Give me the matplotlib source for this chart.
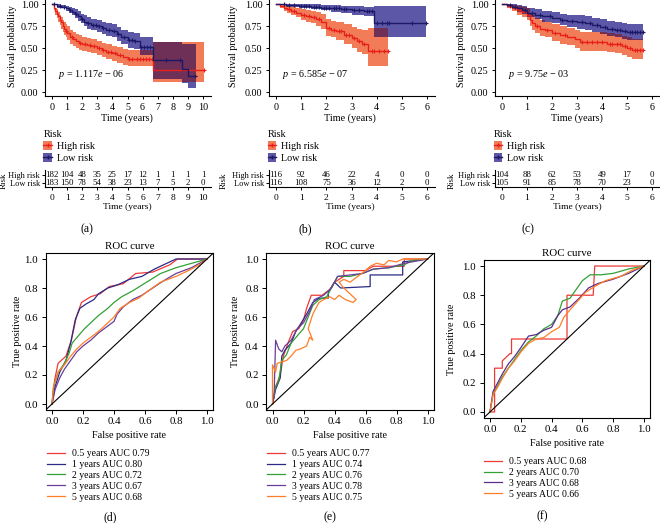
import numpy as np
import matplotlib
matplotlib.use('Agg')
import matplotlib.pyplot as plt
from matplotlib.patches import Patch
from matplotlib.lines import Line2D

plt.rcParams['font.family'] = ['Liberation Serif', 'DejaVu Serif']
plt.rcParams['mathtext.fontset'] = 'custom'
plt.rcParams['mathtext.rm'] = 'Liberation Serif'
plt.rcParams['mathtext.it'] = 'Liberation Serif:italic'
plt.rcParams['axes.linewidth'] = 0.8

# ---------------- Kaplan-Meier data ----------------
# panel (a)
a_high_t = [0, 0.1, 0.2, 0.3, 0.4, 0.5, 0.6, 0.7, 0.8, 0.9, 1.0, 1.2, 1.4, 1.6, 1.8, 2.0, 2.3, 2.6, 3.0, 3.3, 3.6, 4.0, 4.3, 4.7, 5.0, 5.5, 6.7, 10.07]
a_high_s = [1.0, 0.96, 0.92, 0.89, 0.86, 0.82, 0.79, 0.75, 0.72, 0.69, 0.67, 0.63, 0.60, 0.58, 0.56, 0.55, 0.53, 0.52, 0.50, 0.48, 0.46, 0.44, 0.42, 0.40, 0.38, 0.38, 0.25, 0.25]
a_high_lo = [1.0, 0.93, 0.88, 0.84, 0.80, 0.76, 0.72, 0.68, 0.65, 0.62, 0.59, 0.55, 0.52, 0.50, 0.48, 0.47, 0.45, 0.44, 0.42, 0.40, 0.38, 0.35, 0.33, 0.31, 0.29, 0.29, 0.11, 0.11]
a_high_hi = [1.0, 0.99, 0.96, 0.94, 0.91, 0.88, 0.85, 0.82, 0.79, 0.77, 0.75, 0.71, 0.68, 0.66, 0.65, 0.63, 0.61, 0.60, 0.58, 0.56, 0.54, 0.52, 0.51, 0.49, 0.48, 0.48, 0.57, 0.57]
a_high_cens = [0.95, 1.3, 1.85, 2.2, 2.5, 2.8, 3.1, 3.4, 3.7, 3.9, 4.2, 4.5, 5.1, 5.3, 5.6, 5.8, 6.0, 6.2, 6.4, 6.6, 10.05]
a_low_t = [0, 0.3, 0.6, 0.9, 1.1, 1.3, 1.5, 1.7, 1.9, 2.1, 2.3, 2.6, 3.0, 3.3, 3.6, 4.0, 4.3, 4.6, 5.0, 5.4, 5.8, 6.7, 8.6, 9.0, 9.55]
a_low_s = [1.0, 0.98, 0.97, 0.95, 0.93, 0.91, 0.89, 0.86, 0.83, 0.80, 0.78, 0.76, 0.75, 0.73, 0.71, 0.69, 0.66, 0.63, 0.59, 0.58, 0.51, 0.36, 0.26, 0.18, 0.18]
a_low_lo = [1.0, 0.96, 0.95, 0.92, 0.90, 0.87, 0.84, 0.81, 0.78, 0.75, 0.72, 0.70, 0.68, 0.66, 0.64, 0.62, 0.58, 0.55, 0.50, 0.49, 0.42, 0.15, 0.10, 0.05, 0.05]
a_low_hi = [1.0, 1.0, 0.99, 0.98, 0.97, 0.95, 0.94, 0.92, 0.89, 0.87, 0.85, 0.83, 0.82, 0.80, 0.78, 0.77, 0.74, 0.71, 0.68, 0.67, 0.62, 0.57, 0.55, 0.55, 0.55]
a_low_cens = [0.15, 0.5, 0.8, 1.2, 1.6, 2.0, 2.4, 2.7, 2.9, 3.1, 3.4, 3.8, 4.1, 4.4, 4.8, 5.1, 5.3, 5.5, 5.9, 6.1, 6.3, 6.5, 7.55, 8.5, 9.45]
a_times = [0, 1, 2, 3, 4, 5, 6, 7, 8, 9, 10]
a_risk_high = [182, 104, 48, 35, 25, 17, 12, 1, 1, 1, 1]
a_risk_low = [183, 150, 78, 54, 38, 23, 13, 7, 5, 2, 0]

# panel (b)
b_high_t = [0, 0.15, 0.3, 0.45, 0.6, 0.8, 1.0, 1.2, 1.4, 1.6, 1.8, 2.0, 2.2, 2.4, 2.7, 3.0, 3.2, 3.4, 3.65, 4.45]
b_high_s = [1.0, 0.98, 0.96, 0.94, 0.92, 0.90, 0.88, 0.86, 0.85, 0.83, 0.80, 0.73, 0.71, 0.69, 0.65, 0.61, 0.58, 0.55, 0.47, 0.47]
b_high_lo = [1.0, 0.95, 0.92, 0.90, 0.87, 0.85, 0.82, 0.79, 0.78, 0.75, 0.72, 0.64, 0.62, 0.59, 0.55, 0.50, 0.46, 0.43, 0.30, 0.30]
b_high_hi = [1.0, 1.0, 1.0, 0.99, 0.97, 0.96, 0.94, 0.93, 0.92, 0.91, 0.89, 0.83, 0.81, 0.79, 0.77, 0.74, 0.72, 0.70, 0.73, 0.73]
b_high_cens = [0.5, 0.7, 1.1, 1.3, 1.5, 1.7, 2.1, 2.3, 2.5, 2.6, 2.8, 2.9, 3.1, 3.3, 3.5, 3.8, 3.9, 4.1, 4.3, 4.45]
b_low_t = [0, 0.4, 0.9, 1.4, 1.8, 2.2, 2.6, 3.0, 3.5, 3.9, 5.95]
b_low_s = [1.0, 0.99, 0.98, 0.97, 0.96, 0.95, 0.94, 0.93, 0.92, 0.78, 0.78]
b_low_lo = [1.0, 0.97, 0.96, 0.94, 0.93, 0.91, 0.90, 0.88, 0.86, 0.63, 0.63]
b_low_hi = [1.0, 1.0, 1.0, 1.0, 0.99, 0.99, 0.98, 0.98, 0.97, 0.98, 0.98]
b_low_cens = [0.3, 0.5, 0.7, 1.0, 1.1, 1.2, 1.3, 1.5, 1.6, 1.7, 1.9, 2.0, 2.1, 2.3, 2.4, 2.5, 2.7, 2.8, 3.1, 3.3, 3.6, 3.7, 3.8, 4.0, 4.2, 4.4, 4.5, 5.4, 5.95]
b_times = [0, 1, 2, 3, 4, 5, 6]
b_risk_high = [116, 92, 46, 22, 4, 0, 0]
b_risk_low = [116, 108, 75, 36, 12, 2, 0]

# panel (c)
c_high_t = [0, 0.2, 0.4, 0.6, 0.8, 1.0, 1.1, 1.2, 1.3, 1.5, 1.7, 2.0, 2.3, 2.6, 2.9, 3.1, 4.2, 4.5, 4.8, 5.0, 5.2, 5.65]
c_high_s = [1.0, 0.98, 0.96, 0.93, 0.91, 0.88, 0.82, 0.78, 0.75, 0.72, 0.70, 0.67, 0.65, 0.63, 0.60, 0.57, 0.55, 0.54, 0.52, 0.50, 0.48, 0.48]
c_high_lo = [1.0, 0.95, 0.92, 0.88, 0.85, 0.82, 0.75, 0.70, 0.67, 0.64, 0.62, 0.58, 0.55, 0.53, 0.50, 0.47, 0.45, 0.44, 0.42, 0.40, 0.37, 0.37]
c_high_hi = [1.0, 1.0, 0.99, 0.98, 0.97, 0.95, 0.90, 0.87, 0.84, 0.82, 0.80, 0.77, 0.75, 0.73, 0.70, 0.68, 0.67, 0.66, 0.64, 0.62, 0.60, 0.60]
c_high_cens = [0.3, 0.7, 1.4, 1.8, 2.1, 2.5, 3.2, 3.4, 3.6, 3.8, 4.0, 4.3, 4.4, 4.6, 4.7, 4.9, 5.1, 5.3, 5.4, 5.5, 5.65]
c_low_t = [0, 0.2, 0.4, 0.6, 0.8, 1.0, 1.3, 1.6, 2.0, 2.3, 2.6, 3.0, 3.3, 3.6, 3.9, 4.2, 4.5, 4.8, 5.0, 5.65]
c_low_s = [1.0, 0.99, 0.97, 0.95, 0.93, 0.90, 0.88, 0.86, 0.84, 0.82, 0.81, 0.79, 0.78, 0.76, 0.74, 0.72, 0.70, 0.69, 0.68, 0.68]
c_low_lo = [1.0, 0.97, 0.94, 0.91, 0.89, 0.85, 0.83, 0.80, 0.78, 0.76, 0.74, 0.72, 0.70, 0.68, 0.66, 0.64, 0.62, 0.60, 0.59, 0.59]
c_low_hi = [1.0, 1.0, 1.0, 0.99, 0.98, 0.96, 0.94, 0.92, 0.91, 0.89, 0.88, 0.87, 0.86, 0.84, 0.83, 0.81, 0.79, 0.78, 0.77, 0.77]
c_low_cens = [0.3, 0.5, 0.9, 1.2, 1.5, 1.9, 2.4, 2.8, 3.2, 3.5, 3.8, 4.1, 4.4, 4.6, 4.7, 4.9, 5.1, 5.2, 5.3, 5.4, 5.5, 5.65]
c_times = [0, 1, 2, 3, 4, 5, 6]
c_risk_high = [104, 88, 62, 53, 49, 17, 0]
c_risk_low = [105, 91, 85, 78, 70, 23, 0]

pvals = [r'$p$ = 1.117$e$ − 06', r'$p$ = 6.585$e$ − 07', r'$p$ = 9.75$e$ − 03']

# ---------------- ROC data ----------------
d_labels = ['0.5 years AUC 0.79', '1 years AUC 0.80', '2 years AUC 0.72', '3 years AUC 0.67', '5 years AUC 0.68']
d_fpr = [
    [0, 0.017, 0.039, 0.09, 0.125, 0.157, 0.19, 0.25, 0.31, 0.37, 0.46, 0.54, 0.65, 0.76, 0.81, 1.0],
    [0, 0.02, 0.05, 0.09, 0.12, 0.15, 0.18, 0.22, 0.27, 0.30, 0.36, 0.42, 0.50, 0.58, 0.66, 0.72, 0.80, 1.0],
    [0, 0.01, 0.04, 0.08, 0.11, 0.13, 0.17, 0.21, 0.26, 0.30, 0.36, 0.40, 0.45, 0.52, 0.58, 0.64, 0.70, 0.80, 0.90, 1.0],
    [0, 0.02, 0.05, 0.08, 0.12, 0.16, 0.20, 0.25, 0.30, 0.35, 0.40, 0.42, 0.46, 0.52, 0.58, 0.65, 0.72, 0.80, 0.90, 1.0],
    [0, 0.01, 0.04, 0.08, 0.12, 0.16, 0.20, 0.25, 0.30, 0.35, 0.40, 0.44, 0.50, 0.56, 0.62, 0.70, 0.80, 0.88, 0.95, 1.0],
]
d_tpr = [
    [0, 0.165, 0.28, 0.33, 0.44, 0.60, 0.70, 0.74, 0.76, 0.81, 0.83, 0.90, 0.91, 0.96, 1.0, 1.0],
    [0, 0.12, 0.22, 0.30, 0.42, 0.58, 0.66, 0.69, 0.72, 0.76, 0.80, 0.82, 0.86, 0.88, 0.93, 0.96, 1.0, 1.0],
    [0, 0.12, 0.22, 0.28, 0.35, 0.42, 0.47, 0.52, 0.57, 0.61, 0.66, 0.70, 0.74, 0.78, 0.82, 0.86, 0.90, 0.94, 0.97, 1.0],
    [0, 0.10, 0.18, 0.24, 0.30, 0.36, 0.40, 0.44, 0.49, 0.53, 0.57, 0.62, 0.67, 0.72, 0.75, 0.80, 0.85, 0.90, 0.94, 1.0],
    [0, 0.12, 0.22, 0.27, 0.33, 0.38, 0.42, 0.46, 0.50, 0.55, 0.60, 0.66, 0.70, 0.73, 0.78, 0.84, 0.88, 0.92, 0.96, 1.0],
]
e_labels = ['0.5 years AUC 0.77', '1 years AUC 0.74', '2 years AUC 0.76', '3 years AUC 0.78', '5 years AUC 0.75']
e_fpr = [
    [0, 0.02, 0.05, 0.07, 0.10, 0.13, 0.17, 0.20, 0.22, 0.25, 0.32, 0.37, 0.40, 0.46, 0.46, 0.60, 0.65, 0.85, 0.85, 1.0],
    [0, 0.02, 0.05, 0.06, 0.08, 0.12, 0.15, 0.18, 0.22, 0.26, 0.30, 0.36, 0.36, 0.40, 0.44, 0.63, 0.63, 0.84, 0.84, 1.0],
    [0, 0.02, 0.04, 0.06, 0.09, 0.12, 0.16, 0.20, 0.23, 0.26, 0.30, 0.35, 0.38, 0.42, 0.50, 0.58, 0.65, 0.75, 0.85, 0.90, 1.0],
    [0, 0.01, 0.02, 0.04, 0.06, 0.08, 0.12, 0.16, 0.20, 0.24, 0.27, 0.33, 0.38, 0.42, 0.50, 0.58, 0.65, 0.75, 0.85, 1.0],
    [0, 0.0, 0.02, 0.03, 0.06, 0.09, 0.12, 0.15, 0.18, 0.22, 0.24, 0.26, 0.23, 0.26, 0.30, 0.33, 0.37, 0.40, 0.43, 0.47, 0.52, 0.54, 0.50, 0.46, 0.43, 0.46, 0.50, 0.55, 0.60, 0.63, 0.67, 0.72, 0.75, 0.80, 0.84, 0.90, 1.0],
]
e_tpr = [
    [0, 0.12, 0.20, 0.33, 0.42, 0.50, 0.52, 0.58, 0.66, 0.75, 0.75, 0.79, 0.84, 0.88, 0.92, 0.92, 0.95, 0.95, 1.0, 1.0],
    [0, 0.10, 0.18, 0.33, 0.37, 0.42, 0.50, 0.55, 0.62, 0.70, 0.73, 0.73, 0.77, 0.84, 0.80, 0.81, 0.89, 0.89, 0.98, 1.0],
    [0, 0.12, 0.16, 0.30, 0.34, 0.42, 0.47, 0.52, 0.60, 0.68, 0.72, 0.74, 0.80, 0.88, 0.88, 0.90, 0.93, 0.94, 0.96, 0.99, 1.0],
    [0, 0.05, 0.44, 0.38, 0.36, 0.40, 0.44, 0.52, 0.56, 0.64, 0.72, 0.75, 0.80, 0.88, 0.89, 0.90, 0.93, 0.94, 0.97, 1.0],
    [0, 0.27, 0.22, 0.28, 0.29, 0.30, 0.33, 0.37, 0.38, 0.40, 0.46, 0.44, 0.52, 0.62, 0.70, 0.72, 0.74, 0.72, 0.75, 0.72, 0.70, 0.72, 0.76, 0.80, 0.84, 0.86, 0.84, 0.88, 0.92, 0.95, 0.97, 0.96, 0.99, 0.98, 1.0, 1.0, 1.0],
]
f_labels = ['0.5 years AUC 0.68', '2 years AUC 0.70', '3 years AUC 0.68', '5 years AUC 0.66']
f_fpr = [
    [0, 0.03, 0.03, 0.08, 0.08, 0.13, 0.14, 0.14, 0.50, 0.50, 0.67, 0.68, 1.0],
    [0, 0.02, 0.05, 0.08, 0.12, 0.16, 0.20, 0.25, 0.30, 0.35, 0.40, 0.44, 0.47, 0.52, 0.56, 0.60, 0.65, 0.72, 0.80, 0.90, 1.0],
    [0, 0.02, 0.05, 0.08, 0.12, 0.16, 0.20, 0.25, 0.30, 0.35, 0.40, 0.44, 0.47, 0.52, 0.58, 0.64, 0.70, 0.80, 0.90, 1.0],
    [0, 0.02, 0.05, 0.08, 0.12, 0.16, 0.20, 0.25, 0.30, 0.35, 0.40, 0.45, 0.48, 0.52, 0.57, 0.62, 0.68, 0.75, 0.85, 0.92, 1.0],
]
f_tpr = [
    [0, 0, 0.30, 0.30, 0.35, 0.40, 0.40, 0.50, 0.50, 0.80, 0.80, 1.0, 1.0],
    [0, 0.12, 0.18, 0.24, 0.30, 0.36, 0.42, 0.48, 0.52, 0.57, 0.60, 0.66, 0.76, 0.78, 0.84, 0.90, 0.94, 0.94, 0.95, 0.98, 1.0],
    [0, 0.14, 0.20, 0.26, 0.33, 0.38, 0.44, 0.52, 0.53, 0.56, 0.58, 0.66, 0.70, 0.72, 0.78, 0.85, 0.88, 0.91, 0.95, 1.0],
    [0, 0.12, 0.17, 0.23, 0.30, 0.35, 0.41, 0.47, 0.50, 0.51, 0.55, 0.58, 0.65, 0.70, 0.76, 0.82, 0.86, 0.90, 0.93, 0.97, 1.0],
]

ROC5 = ['#ee3a36', '#2b2a86', '#33a035', '#6a3d9a', '#ff7f27']
ROC4 = ['#ee3a36', '#33a035', '#5b2c8b', '#ff7f27']

HIGH_LINE, HIGH_FILL = '#e8201c', '#f37c58'
LOW_LINE, LOW_FILL = '#1c1a66', '#5d57a8'
BOTH_FILL = '#6f3057'

W, H = 660, 523
fig = plt.figure(figsize=(W / 100, H / 100), dpi=100)


def px_axes(x0, y0, x1, y1):
    return fig.add_axes([x0 / W, 1 - y1 / H, (x1 - x0) / W, (y1 - y0) / H])


def ftext(x, y, s, **kw):
    return fig.text(x / W, 1 - y / H, s, **kw)


def step_at(t, v, x):
    idx = np.searchsorted(t, x, side='right') - 1
    return np.asarray(v)[np.clip(idx, 0, None)]


def km_panel(ax, high, low, xmax, ticks, pval):
    for t, s, lo, hi, cens, lc, fc in (high + (HIGH_LINE, HIGH_FILL), low + (LOW_LINE, LOW_FILL)):
        ax.fill_between(t, lo, hi, step='post', color=fc, lw=0)
    # overlap of the two confidence bands
    th, tl = np.array(high[0]), np.array(low[0])
    grid = np.union1d(th, tl)
    grid = grid[grid <= min(th[-1], tl[-1])]
    top = np.minimum(step_at(th, high[3], grid), step_at(tl, low[3], grid))
    bot = np.maximum(step_at(th, high[2], grid), step_at(tl, low[2], grid))
    ax.fill_between(grid, bot, np.maximum(top, bot), step='post', color=BOTH_FILL, lw=0)
    for t, s, lo, hi, cens, lc, fc in (high + (HIGH_LINE, HIGH_FILL), low + (LOW_LINE, LOW_FILL)):
        ax.plot(t, s, drawstyle='steps-post', color=lc, lw=1.0)
        ax.plot(cens, step_at(t, s, cens), '+', color=lc, ms=3.5, mew=0.8, ls='none')
    ax.set_xlim(-0.05 * xmax, xmax * 1.05)
    ax.set_ylim(-0.05, 1.05)
    ax.set_xticks(ticks)
    ax.set_yticks([0, 0.25, 0.5, 0.75, 1.0])
    ax.set_yticklabels(['0.00', '0.25', '0.50', '0.75', '1.00'])
    for sp in ('top', 'right'):
        ax.spines[sp].set_visible(False)
    ax.tick_params(labelsize=7.3, length=2.5, width=0.7, pad=2)
    ax.text(0.04 * xmax, 0.2, pval, fontsize=7.3, va='center')


def risk_table(ax, times, high_n, low_n, xmax):
    ax.set_xlim(-0.05 * xmax, xmax * 1.05)
    ax.set_ylim(0, 2.2)
    for x, n in zip(times, high_n):
        ax.text(x, 1.55, str(n), ha='center', va='center', fontsize=6.3)
    for x, n in zip(times, low_n):
        ax.text(x, 0.52, str(n), ha='center', va='center', fontsize=6.3)
    ax.set_xticks(times)
    ax.set_yticks([1.55, 0.52])
    ax.set_yticklabels(['High risk', 'Low risk'])
    for sp in ('top', 'right'):
        ax.spines[sp].set_visible(False)
    ax.tick_params(labelsize=6.0, length=2, width=0.7, pad=1.2)
    ax.tick_params(axis='x', labelsize=6.8, pad=3)


km_specs = [
    ((a_high_t, a_high_s, a_high_lo, a_high_hi, a_high_cens), (a_low_t, a_low_s, a_low_lo, a_low_hi, a_low_cens),
     10, a_times, a_risk_high, a_risk_low, 44.5, 210.5, 13, 127, '(a)', 87),
    ((b_high_t, b_high_s, b_high_lo, b_high_hi, b_high_cens), (b_low_t, b_low_s, b_low_lo, b_low_hi, b_low_cens),
     6, b_times, b_risk_high, b_risk_low, 268.5, 434.5, 233, 350, '(b)', 305),
    ((c_high_t, c_high_s, c_high_lo, c_high_hi, c_high_cens), (c_low_t, c_low_s, c_low_lo, c_low_hi, c_low_cens),
     6, c_times, c_risk_high, c_risk_low, 494.5, 659.5, 461, 577, '(c)', 528),
]

for i, (high, low, xmax, times, rh, rl, x0, x1, ylab_x, xlab_x, tag, tag_x) in enumerate(km_specs):
    ax = px_axes(x0, -0.4, x1, 96.4)
    km_panel(ax, high, low, xmax, times, pvals[i])
    ftext(ylab_x, 46, 'Survival probability', rotation=90, ha='center', va='center', fontsize=7.3)
    ftext(xlab_x, 118, 'Time (years)', ha='center', va='center', fontsize=7.3)

    handles = [(Patch(facecolor=HIGH_FILL), Line2D([], [], color=HIGH_LINE, marker='+', ms=3, lw=1)),
               (Patch(facecolor=LOW_FILL), Line2D([], [], color=LOW_LINE, marker='+', ms=3, lw=1))]
    ax.legend(handles, ['High risk', 'Low risk'], title='Risk', loc='upper left',
              bbox_to_anchor=((x0 - 1) / W, 1 - 130 / H), bbox_transform=fig.transFigure,
              frameon=False, fontsize=7.3, title_fontsize=7.3, alignment='left',
              handlelength=0.8, handleheight=0.9, handletextpad=0.5, labelspacing=0.22,
              borderpad=0, borderaxespad=0)

    tax = px_axes(x0, 170, x1, 187.3)
    risk_table(tax, times, rh, rl, xmax)
    ftext(xlab_x, 207, 'Time (years)', ha='center', va='center', fontsize=6.8)
    ftext(ylab_x - 9.5, 181, 'Risk', rotation=90, ha='center', va='center', fontsize=6.5)
    ftext(tag_x, 229, tag, ha='center', va='center', fontsize=8.5)

roc_specs = [
    (d_fpr, d_tpr, d_labels, ROC5, (45.8, 253.2, 213.2, 409.8), 17, (47, 449), '(d)', (110, 517)),
    (e_fpr, e_tpr, e_labels, ROC5, (266.3, 253.2, 433.7, 409.8), 235, (267, 449), '(e)', (330, 517)),
    (f_fpr, f_tpr, f_labels, ROC4, (483.8, 260.2, 650.2, 417.8), 452, (484, 457), '(f)', (542, 516)),
]

for fpr, tpr, labels, colors, box, ylab_x, leg_xy, tag, tag_xy in roc_specs:
    ax = px_axes(*box)
    lines = []
    for x, y, c in zip(fpr, tpr, colors):
        ln, = ax.plot(x, y, color=c, lw=0.9)
        lines.append(ln)
    ax.plot([-0.04, 1.04], [-0.04, 1.04], color='black', lw=0.8)
    ax.set_xlim(-0.04, 1.04)
    ax.set_ylim(-0.04, 1.04)
    ticks = [0, 0.2, 0.4, 0.6, 0.8, 1.0]
    ax.set_xticks(ticks)
    ax.set_yticks(ticks)
    ax.set_xticklabels(['0.0', '0.2', '0.4', '0.6', '0.8', '1.0'])
    ax.set_yticklabels(['0.0', '0.2', '0.4', '0.6', '0.8', '1.0'])
    ax.tick_params(labelsize=7.8, length=3, width=0.7, pad=2.5)
    ax.set_title('ROC curve', fontsize=7.8, pad=3)
    ftext((box[0] + box[2]) / 2, box[3] + 25.5, 'False positive rate', ha='center', va='center', fontsize=7.3)
    ftext(ylab_x, (box[1] + box[3]) / 2, 'True positive rate', rotation=90, ha='center', va='center', fontsize=7.3)
    ax.legend(lines, labels, loc='upper left', bbox_to_anchor=(leg_xy[0] / W, 1 - leg_xy[1] / H),
              bbox_transform=fig.transFigure, frameon=False, fontsize=7,
              handlelength=1.85, handletextpad=0.7, labelspacing=0.2, borderpad=0, borderaxespad=0)
    ftext(tag_xy[0], tag_xy[1], tag, ha='center', va='center', fontsize=8.5)

fig.savefig('out.png', dpi=100)
